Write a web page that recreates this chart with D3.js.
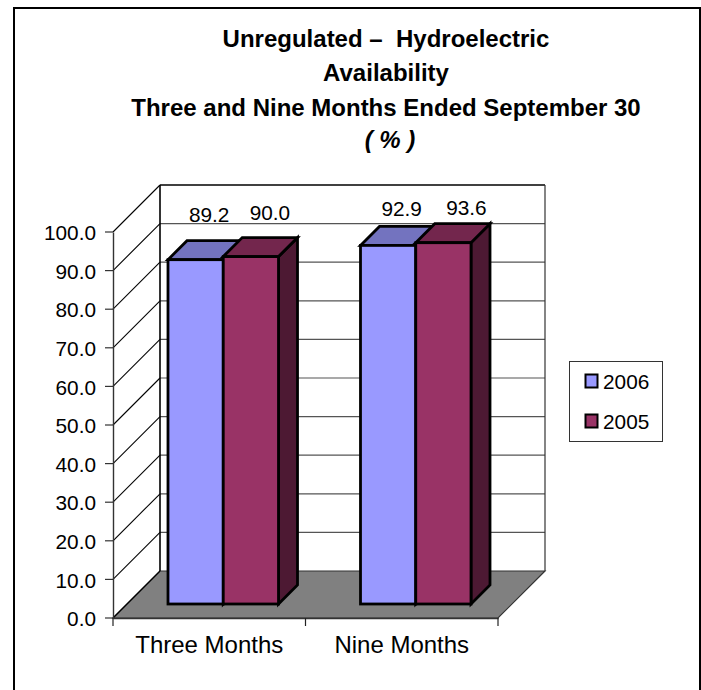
<!DOCTYPE html>
<html><head><meta charset="utf-8">
<script src="https://cdn.jsdelivr.net/npm/d3@7"></script>
<style>html,body{margin:0;padding:0;background:#fff}svg{display:block}text{font-family:"Liberation Sans",Arial,sans-serif;fill:#000}</style>
</head><body><svg id="c" width="701" height="690"></svg>
<script>
const categories = ["Three Months", "Nine Months"];
const seriesNames = ["2006", "2005"];
const values2006 = [89.2, 92.9];
const values2005 = [90.0, 93.6];
const yTicks = [0, 10, 20, 30, 40, 50, 60, 70, 80, 90, 100];
const titleLines = ["Unregulated \u2013  Hydroelectric", "Availability", "Three and Nine Months Ended September 30"];
const unitLine = "( % )";

const svg = d3.select("#c");
const front = {x0: 113, x1: 498, y0: 618, y1: 232};
const depth = 47;
const barDepthStart = 14, barDepthEnd = 33;
const colors = {
  "2006": {front: "#9999ff", top: "#7373bf", side: "#4d4d80"},
  "2005": {front: "#993366", top: "#73264d", side: "#4d1933"}
};

const y = d3.scaleLinear().domain([0, 100]).range([front.y0, front.y1]);
const x = d3.scaleBand().domain(categories).range([front.x0, front.x1]).paddingInner(0).paddingOuter(0);
const xSeries = d3.scaleBand().domain(seriesNames).range([0, x.bandwidth()]).paddingInner(0).paddingOuter(0.742).align(0.5);
const labelBaseline = d3.scaleLinear().domain([89.2, 93.6]).range([221.5, 215]);
const labelShift = (name, ci) => name === seriesNames[0] ? 13.5 : 19 + 4 * ci;

// outer frame (open at the bottom)
svg.append("path").attr("d", "M14,690V8H700V690").attr("fill", "none").attr("stroke", "#000").attr("stroke-width", 2);

// titles
const tx = 386;
const ty = [47, 80.5, 116];
svg.selectAll("text.title").data(titleLines).join("text").attr("class", "title")
  .attr("x", tx).attr("y", (d, i) => ty[i]).attr("text-anchor", "middle")
  .attr("font-size", 24).attr("font-weight", "bold").style("white-space", "pre").text(d => d);
svg.append("text").attr("x", 390).attr("y", 148).attr("text-anchor", "middle")
  .attr("font-size", 24).attr("font-weight", "bold").attr("font-style", "italic").style("white-space", "pre").text(unitLine);

// floor
svg.append("path").attr("fill", "#808080").attr("stroke", "#333").attr("stroke-width", 1.2)
  .attr("d", d3.line()([[front.x0, y(0)], [front.x0 + depth, y(0) - depth], [front.x1 + depth, y(0) - depth], [front.x1, y(0)]]) + "Z");

// back wall and side wall
yTicks.forEach(t => {
  const yy = y(t);
  if (t > 0) {
    svg.append("line").attr("x1", front.x0 + depth).attr("x2", front.x1 + depth).attr("y1", yy - depth).attr("y2", yy - depth)
      .attr("stroke", t === 100 ? "#000" : "#555").attr("stroke-width", t === 100 ? 1.5 : 1.2);
  }
  svg.append("line").attr("x1", front.x0).attr("x2", front.x0 + depth).attr("y1", yy).attr("y2", yy - depth)
    .attr("stroke", "#000").attr("stroke-width", 1.1);
  svg.append("line").attr("x1", front.x0 - 8).attr("x2", front.x0).attr("y1", yy).attr("y2", yy).attr("stroke", "#333").attr("stroke-width", 1.2);
});
svg.append("line").attr("x1", front.x0 + depth).attr("x2", front.x0 + depth).attr("y1", y(100) - depth).attr("y2", y(0) - depth).attr("stroke", "#000").attr("stroke-width", 1.6);
svg.append("line").attr("x1", front.x1 + depth).attr("x2", front.x1 + depth).attr("y1", y(100) - depth).attr("y2", y(0) - depth).attr("stroke", "#333").attr("stroke-width", 1.2);

// y axis
const yAxis = d3.axisLeft(y).tickValues(yTicks).tickSize(0).tickPadding(17).tickFormat(d3.format(".1f"));
const gy = svg.append("g").attr("transform", `translate(${front.x0},1)`).call(yAxis);
gy.select(".domain").attr("stroke", "#333").attr("stroke-width", 1.4).attr("transform", "translate(0,-1)");
gy.selectAll("text").attr("font-size", 20.8).attr("font-family", "Liberation Sans").attr("fill", "#000");

// x axis
const xAxis = d3.axisBottom(x).tickSize(0).tickPadding(18);
const gx = svg.append("g").attr("transform", `translate(0,${front.y0})`).call(xAxis);
gx.select(".domain").attr("stroke", "#333").attr("stroke-width", 1.4);
gx.selectAll("text").attr("font-size", 24).attr("font-family", "Liberation Sans").attr("fill", "#000");
[front.x0, x(categories[1]), front.x1].forEach(px => {
  svg.append("line").attr("x1", px).attr("x2", px).attr("y1", front.y0).attr("y2", front.y0 + 8).attr("stroke", "#222").attr("stroke-width", 1.2);
});

// bars
const seriesValues = {"2006": values2006, "2005": values2005};
categories.forEach((cat, ci) => {
  seriesNames.forEach(name => {
    const v = seriesValues[name][ci];
    const c = colors[name];
    const left = x(cat) + xSeries(name) + barDepthStart;
    const right = left + xSeries.bandwidth();
    const base = y(0) - barDepthStart;
    const top = base - (y(0) - y(v));
    const d = barDepthEnd - barDepthStart;
    const g = svg.append("g").attr("stroke", "#000").attr("stroke-width", 2.8).attr("stroke-linejoin", "miter");
    g.append("path").attr("fill", c.side).attr("d", d3.line()([[right, base], [right + d, base - d], [right + d, top - d], [right, top]]) + "Z");
    g.append("path").attr("fill", c.top).attr("d", d3.line()([[left, top], [left + d, top - d], [right + d, top - d], [right, top]]) + "Z");
    g.append("rect").attr("fill", c.front).attr("x", left).attr("y", top).attr("width", right - left).attr("height", base - top);
  });
});
categories.forEach((cat, ci) => {
  seriesNames.forEach(name => {
    const v = seriesValues[name][ci];
    const left = x(cat) + xSeries(name) + barDepthStart;
    svg.append("text").attr("x", left + xSeries.bandwidth() / 2 + labelShift(name, ci)).attr("y", labelBaseline(v))
      .attr("text-anchor", "middle").attr("font-size", 20.8).text(d3.format(".1f")(v));
  });
});

// legend
svg.append("rect").attr("x", 569.5).attr("y", 361.5).attr("width", 93).attr("height", 80).attr("fill", "#fff").attr("stroke", "#333").attr("stroke-width", 1);
const ly = d3.scalePoint().domain(seriesNames).range([381, 421]);
seriesNames.forEach(name => {
  svg.append("rect").attr("x", 585.5).attr("y", ly(name) - 6.5).attr("width", 12).attr("height", 13)
    .attr("fill", colors[name].front).attr("stroke", "#000").attr("stroke-width", 2);
  svg.append("text").attr("x", 603).attr("y", ly(name) + 7.5).attr("font-size", 20.8).text(name);
});
</script></body></html>
